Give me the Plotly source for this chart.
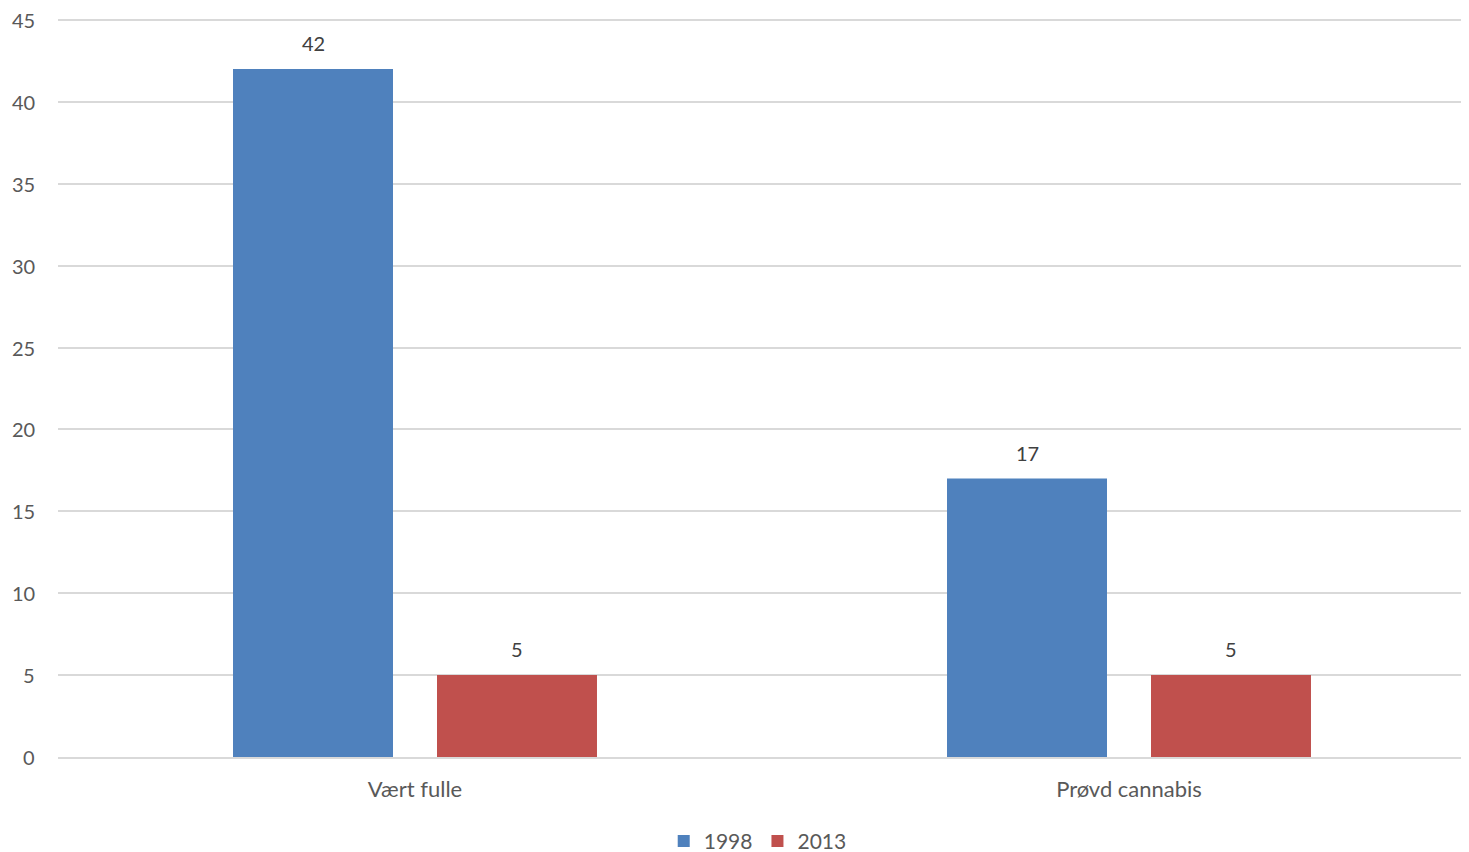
import plotly.graph_objects as go

categories = ["Vært fulle", "Prøvd cannabis"]
series_names = ["1998", "2013"]
values_1998 = [42, 17]
values_2013 = [5, 5]
colors = ["#4F81BD", "#C0504D"]
tick_vals = [0, 5, 10, 15, 20, 25, 30, 35, 40, 45]

fig = go.Figure()
series = [values_1998, values_2013]
for name, vals, col in zip(series_names, series, colors):
    fig.add_trace(go.Bar(
        x=categories, y=vals, name=name,
        marker=dict(color=col, line=dict(width=0)),
    ))

# value labels above the bars
offsets = [-102, 102]
for vals, off in zip(series, offsets):
    for cat, v in zip(categories, vals):
        fig.add_annotation(x=cat, y=v, text=str(v), showarrow=False,
                           xshift=off, yshift=12, yanchor="bottom",
                           font=dict(size=20, color="#404040"))

# y tick labels (drawn as annotations so the top one is not dropped)
for t in tick_vals:
    fig.add_annotation(xref="paper", x=0, yref="y", y=t, text=str(t),
                       showarrow=False, xanchor="right", yanchor="middle",
                       xshift=-21, font=dict(size=20, color="#595959"))

fig.update_layout(
    width=1478, height=844,
    margin=dict(l=50, r=0, t=2, b=95, autoexpand=False),
    plot_bgcolor="white", paper_bgcolor="white",
    font=dict(family="Lato, Open Sans, sans-serif", size=20, color="#595959"),
    barmode="group", bargap=0.4286, bargroupgap=0.2157,
    showlegend=True,
    legend=dict(orientation="h", x=0.49, xanchor="center",
                y=-0.113, yanchor="middle",
                font=dict(size=21, color="#595959"), itemwidth=30,
                traceorder="normal"),
    xaxis=dict(showgrid=False, showline=True, linecolor="#D9D9D9", linewidth=1.5,
               ticks="", automargin=False, ticklabelstandoff=12,
               tickfont=dict(size=22, color="#595959")),
    yaxis=dict(range=[0, 45.61], tickvals=tick_vals, showgrid=True, gridcolor="#D9D9D9",
               gridwidth=1.5, zeroline=False, showline=False, ticks="", automargin=False,
               showticklabels=False),
)
fig.write_html("out.html")
